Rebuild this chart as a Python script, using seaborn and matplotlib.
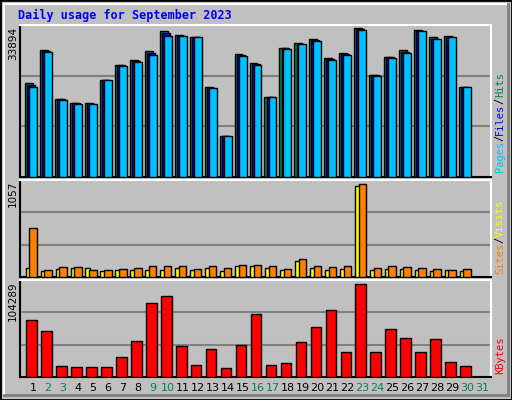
import numpy as np
import pandas as pd
import seaborn as sns
import matplotlib
matplotlib.use("Agg")
import matplotlib.pyplot as plt
from matplotlib.patches import Rectangle
from matplotlib.lines import Line2D

days = list(range(1, 32))
hits = [21300, 29000, 17700, 16900, 16800, 22100, 25500, 26600, 28700, 33300, 32200, 31900,
        20500, 9400, 28000, 25900, 18200, 29400, 30400, 31300, 27100, 28100, 33894, 23300,
        27300, 28800, 33500, 31800, 32000, 20500]
files = [21000, 28700, 17700, 16800, 16700, 22000, 25400, 26400, 28300, 32800, 32000, 31800,
         20300, 9300, 27800, 25700, 18100, 29300, 30300, 31100, 26900, 28000, 33600, 23100,
         27200, 28400, 33300, 31500, 31900, 20400]
pages = [20400, 28500, 17600, 16700, 16700, 22000, 25300, 26200, 27800, 32000, 32000, 31800,
         20200, 9300, 27600, 25500, 18100, 29200, 30200, 30900, 26700, 27800, 33400, 23000,
         27100, 28100, 33200, 31300, 31800, 20400]
sites = [100, 65, 90, 100, 100, 65, 75, 75, 85, 75, 100, 75, 100, 65, 130, 120, 100, 75,
         180, 100, 75, 90, 1030, 80, 90, 90, 80, 70, 75, 70]
visits = [558, 80, 110, 110, 85, 80, 88, 100, 120, 120, 130, 88, 130, 100, 140, 140, 120, 90,
          210, 130, 110, 120, 1057, 100, 120, 110, 100, 90, 85, 90]
kbytes = [63500, 52000, 12500, 11300, 11300, 11300, 22700, 40800, 82800, 90700, 35000, 13600,
          31800, 10200, 36300, 70300, 13600, 15900, 39700, 55600, 74900, 28400, 104289, 28400,
          53300, 44200, 28400, 43100, 17000, 12500]
weekend = [2, 3, 9, 10, 16, 17, 23, 24, 30, 31]

d = np.array(days[:30], dtype=float)
GRAY = "#C0C0C0"
W, H = 512, 400
fig = plt.figure(figsize=(W / 100, H / 100), dpi=100, facecolor=GRAY)

# frame
fig.patches.append(Rectangle((0, 0), 1, 1, transform=fig.transFigure, fill=False, ec="black", lw=2))
fig.add_artist(Line2D([4 / W, 4 / W], [5 / H, 1 - 4 / H], color="white", lw=1.5, transform=fig.transFigure))
fig.add_artist(Line2D([4 / W, 1 - 4 / W], [1 - 4 / H, 1 - 4 / H], color="white", lw=1.5, transform=fig.transFigure))
fig.add_artist(Line2D([4 / W, 1 - 4 / W], [5 / H, 5 / H], color="#808080", lw=2, transform=fig.transFigure))
fig.add_artist(Line2D([1 - 4 / W, 1 - 4 / W], [5 / H, 1 - 4 / H], color="#808080", lw=2, transform=fig.transFigure))

def mkax(top, bot):
    ax = fig.add_axes([20 / W, 1 - bot / H, 471 / W, (bot - top) / H])
    ax.set_facecolor(GRAY)
    for s in ["left", "bottom"]:
        ax.spines[s].set_color("black"); ax.spines[s].set_linewidth(1.5)
    for s in ["right", "top"]:
        ax.spines[s].set_color("white"); ax.spines[s].set_linewidth(1.5)
    return ax

def finish(ax, ymax):
    ax.set_ylim(0, ymax)
    for f in (1 / 3, 2 / 3):
        ax.axhline(ymax * f, color="#808080", lw=1.5, zorder=1)
    ax.set_xlim(0.13, 31.6)
    ax.set_xticks([]); ax.set_yticks([]); ax.set_xlabel(""); ax.set_ylabel("")

def bars(ax, off, vals, width, color):
    sns.barplot(x=d + off, y=vals, native_scale=True, width=width, color=color,
                edgecolor="black", linewidth=1, saturation=1, ax=ax, zorder=3)

ax1 = mkax(25, 177)
bars(ax1, -0.27, hits, 0.53, "#00805C")
bars(ax1, -0.13, files, 0.53, "#0000FF")
bars(ax1, 0.0, pages, 0.53, "#00C0FF")
finish(ax1, 33894 * 151 / 148)

ax2 = mkax(180, 277)
bars(ax2, -0.33, sites, 0.33, "#FFFF00")
bars(ax2, 0.0, visits, 0.5, "#FF8000")
finish(ax2, 1057 * 96 / 92)

ax3 = mkax(280, 377)
bars(ax3, -0.1, kbytes, 0.71, "#FF0000")
finish(ax3, 104289 * 96 / 92)

for dd in days:
    ax3.text(dd, -0.06, str(dd), transform=ax3.get_xaxis_transform(), ha="center", va="top",
             fontsize=8, family="DejaVu Sans",
             color="#00805C" if dd in weekend else "black")

fig.text(18 / W, 1 - 19 / H, "Daily usage for September 2023", color="#0000FF",
         fontsize=8.5, fontweight="bold", family="DejaVu Sans Mono", va="baseline")

for ax, lbl in ((ax1, "33894"), (ax2, "1057"), (ax3, "104289")):
    ax.text(-0.004, 0.99, lbl, transform=ax.transAxes, rotation=90, ha="right", va="top",
            fontsize=7.5, family="DejaVu Sans")

def vstack(ax, parts, start):
    fig.canvas.draw()
    y = start
    for txt, col in parts:
        t = ax.text(1.008, y, txt, transform=ax.transAxes, rotation=90, ha="left", va="bottom",
                    fontsize=7.5, family="DejaVu Sans Mono", color=col)
        bb = t.get_window_extent(renderer=fig.canvas.get_renderer())
        y += bb.height / ax.bbox.height

vstack(ax1, [("Pages", "#00C0FF"), ("/", "black"), ("Files", "#0000FF"), ("/", "black"), ("Hits", "#00805C")], 0.03)
vstack(ax2, [("Sites", "#FF8000"), ("/", "black"), ("Visits", "#FFFF00")], 0.03)
vstack(ax3, [("KBytes", "#FF0000")], 0.03)

fig.savefig("out.png", dpi=100, facecolor=GRAY)
